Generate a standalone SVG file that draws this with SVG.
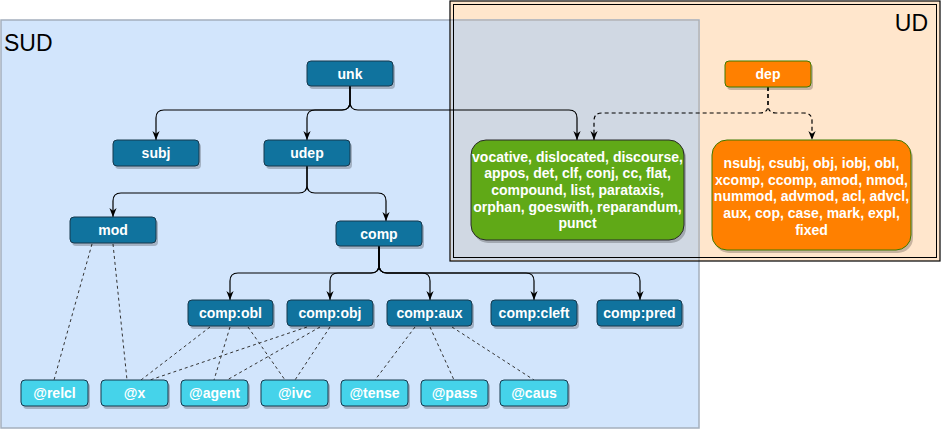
<svg xmlns="http://www.w3.org/2000/svg" width="941" height="431" viewBox="0 0 941 431">
<style>
.lbl{font-family:"Liberation Sans",Arial,sans-serif;font-weight:bold;font-size:14px;fill:#fff;text-anchor:middle}
.big{font-family:"Liberation Sans",Arial,sans-serif;font-size:23px;fill:#000}
.sh{fill:#000;fill-opacity:0.22}
.dk{fill:#10739e;stroke:#16384c;stroke-width:1}
.cy{fill:#45d3ea;stroke:#16384c;stroke-width:1}
.gr{fill:#60a917;stroke:#2a2a2a;stroke-width:1}
.or{fill:#ff8000;stroke:#3f7a00;stroke-width:1}
.arr{fill:none;stroke:#000;stroke-width:1.2;marker-end:url(#ah)}
.darr{fill:none;stroke:#000;stroke-width:1.2;stroke-dasharray:4 3;marker-end:url(#ah)}
.dl{fill:none;stroke:#333;stroke-width:1;stroke-dasharray:3 3}
</style>
<defs>
<marker id="ah" viewBox="0 0 10 10" refX="10" refY="5" markerWidth="9" markerHeight="9" markerUnits="userSpaceOnUse" orient="auto">
<path d="M0,1 L10,5 L0,9 L3,5 z" fill="#000" stroke="none"/>
</marker>
</defs>
<rect x="0" y="0" width="941" height="431" fill="#fff"/>
<g id="containers">
<rect x="1" y="20" width="698" height="408" fill="#d2e5fc"/>
<rect x="450" y="1" width="490" height="260" fill="#ffe6cc"/>
<rect x="451" y="21" width="247" height="239" fill="#d0d8e3"/>
<rect x="1" y="20" width="698" height="408" fill="none" stroke="#a4afbd" stroke-width="1.5"/>
<rect x="450" y="1" width="490" height="260" fill="none" stroke="#000" stroke-width="1.2"/>
<rect x="453.5" y="4.5" width="483" height="253" fill="none" stroke="#000" stroke-width="1"/>
<text class="big" x="4" y="51">SUD</text>
<text class="big" x="928" y="31" text-anchor="end">UD</text>
</g>
<g id="connectors">
<path class="arr" d="M350,86 V102 Q350,110 342,110 H164 Q156,110 156,118 V140"/>
<path class="arr" d="M350,86 V102 Q350,110 342,110 H315 Q307,110 307,118 V140"/>
<path class="arr" d="M350,86 V102 Q350,110 358,110 H569 Q577,110 577,118 V140"/>
<path class="darr" d="M768,87 V105 Q768,113 760,113 H602 Q594,113 594,121 V140"/>
<path class="darr" d="M768,87 V105 Q768,113 776,113 H804 Q812,113 812,121 V140"/>
<path class="arr" d="M307,166 V185 Q307,193 299,193 H121 Q113,193 113,201 V217"/>
<path class="arr" d="M307,166 V185 Q307,193 315,193 H378 Q386,193 386,201 V221"/>
<path class="arr" d="M379,246 V265 Q379,273 371,273 H238 Q230,273 230,281 V300"/>
<path class="arr" d="M379,246 V265 Q379,273 371,273 H338 Q330,273 330,281 V300"/>
<path class="arr" d="M379,246 V265 Q379,273 387,273 H422 Q430,273 430,281 V300"/>
<path class="arr" d="M379,246 V265 Q379,273 387,273 H526 Q534,273 534,281 V300"/>
<path class="arr" d="M379,246 V265 Q379,273 387,273 H632 Q640,273 640,281 V300"/>
<path class="dl" d="M92,244 L54,380"/>
<path class="dl" d="M113,244 L127,380"/>
<path class="dl" d="M210,327 L141,380"/>
<path class="dl" d="M230,327 L214,380"/>
<path class="dl" d="M248,327 L285,380"/>
<path class="dl" d="M307,327 L150,380"/>
<path class="dl" d="M320,327 L227,380"/>
<path class="dl" d="M330,327 L295,380"/>
<path class="dl" d="M415,327 L375,380"/>
<path class="dl" d="M430,327 L454,380"/>
<path class="dl" d="M452,327 L534,380"/>
</g>
<g id="unk"><rect class="sh" x="309" y="64" width="86" height="25" rx="4"/><rect class="dk" x="307" y="61" width="86" height="25" rx="4"/><text class="lbl" x="350" y="78.5">unk</text></g>
<g id="subj"><rect class="sh" x="115" y="143" width="86" height="26" rx="4"/><rect class="dk" x="113" y="140" width="86" height="26" rx="4"/><text class="lbl" x="156" y="158">subj</text></g>
<g id="udep"><rect class="sh" x="266" y="143" width="86" height="26" rx="4"/><rect class="dk" x="264" y="140" width="86" height="26" rx="4"/><text class="lbl" x="307" y="158">udep</text></g>
<g id="mod"><rect class="sh" x="72" y="220" width="86" height="26" rx="4"/><rect class="dk" x="70" y="217" width="86" height="26" rx="4"/><text class="lbl" x="113" y="235">mod</text></g>
<g id="comp"><rect class="sh" x="338" y="224" width="86" height="25" rx="4"/><rect class="dk" x="336" y="221" width="86" height="25" rx="4"/><text class="lbl" x="379" y="238.5">comp</text></g>
<g id="comp-obl"><rect class="sh" x="190" y="303" width="85" height="26" rx="4"/><rect class="dk" x="188" y="300" width="85" height="26" rx="4"/><text class="lbl" x="230.5" y="318">comp:obl</text></g>
<g id="comp-obj"><rect class="sh" x="289" y="303" width="86" height="26" rx="4"/><rect class="dk" x="287" y="300" width="86" height="26" rx="4"/><text class="lbl" x="330" y="318">comp:obj</text></g>
<g id="comp-aux"><rect class="sh" x="389" y="303" width="85" height="26" rx="4"/><rect class="dk" x="387" y="300" width="85" height="26" rx="4"/><text class="lbl" x="429.5" y="318">comp:aux</text></g>
<g id="comp-cleft"><rect class="sh" x="493" y="303" width="86" height="26" rx="4"/><rect class="dk" x="491" y="300" width="86" height="26" rx="4"/><text class="lbl" x="534" y="318">comp:cleft</text></g>
<g id="comp-pred"><rect class="sh" x="599" y="303" width="85" height="26" rx="4"/><rect class="dk" x="597" y="300" width="85" height="26" rx="4"/><text class="lbl" x="639.5" y="318">comp:pred</text></g>
<g id="relcl"><rect class="sh" x="23" y="383" width="67" height="26" rx="4"/><rect class="cy" x="21" y="380" width="67" height="26" rx="4"/><text class="lbl" x="54.5" y="398">@relcl</text></g>
<g id="x"><rect class="sh" x="103" y="383" width="67" height="26" rx="4"/><rect class="cy" x="101" y="380" width="67" height="26" rx="4"/><text class="lbl" x="134.5" y="398">@x</text></g>
<g id="agent"><rect class="sh" x="183" y="383" width="67" height="26" rx="4"/><rect class="cy" x="181" y="380" width="67" height="26" rx="4"/><text class="lbl" x="214.5" y="398">@agent</text></g>
<g id="ivc"><rect class="sh" x="263" y="383" width="67" height="26" rx="4"/><rect class="cy" x="261" y="380" width="67" height="26" rx="4"/><text class="lbl" x="294.5" y="398">@ivc</text></g>
<g id="tense"><rect class="sh" x="343" y="383" width="67" height="26" rx="4"/><rect class="cy" x="341" y="380" width="67" height="26" rx="4"/><text class="lbl" x="374.5" y="398">@tense</text></g>
<g id="pass"><rect class="sh" x="423" y="383" width="67" height="26" rx="4"/><rect class="cy" x="421" y="380" width="67" height="26" rx="4"/><text class="lbl" x="454.5" y="398">@pass</text></g>
<g id="caus"><rect class="sh" x="502" y="383" width="68" height="26" rx="4"/><rect class="cy" x="500" y="380" width="68" height="26" rx="4"/><text class="lbl" x="534" y="398">@caus</text></g>
<g id="dep"><rect class="sh" x="727" y="64" width="86" height="26" rx="4"/><rect class="or" x="725" y="61" width="86" height="26" rx="4"/><text class="lbl" x="768" y="79">dep</text></g>
<g id="ud-green"><rect class="sh" x="473" y="143" width="213" height="100" rx="15"/><rect class="gr" x="471" y="140" width="213" height="100" rx="15"/>
<text class="lbl" x="577.5" y="161.5">vocative, dislocated, discourse,</text>
<text class="lbl" x="577.5" y="178.2">appos, det, clf, conj, cc, flat,</text>
<text class="lbl" x="577.5" y="194.9">compound, list, parataxis,</text>
<text class="lbl" x="577.5" y="211.6">orphan, goeswith, reparandum,</text>
<text class="lbl" x="577.5" y="228.3">punct</text></g>
<g id="ud-orange"><rect class="sh" x="714" y="143" width="199" height="110" rx="15"/><rect class="or" x="712" y="140" width="199" height="110" rx="15"/>
<text class="lbl" x="811.5" y="168">nsubj, csubj, obj, iobj, obl,</text>
<text class="lbl" x="811.5" y="184.7">xcomp, ccomp, amod, nmod,</text>
<text class="lbl" x="811.5" y="201.4">nummod, advmod, acl, advcl,</text>
<text class="lbl" x="811.5" y="218.1">aux, cop, case, mark, expl,</text>
<text class="lbl" x="811.5" y="234.8">fixed</text></g>
</svg>
